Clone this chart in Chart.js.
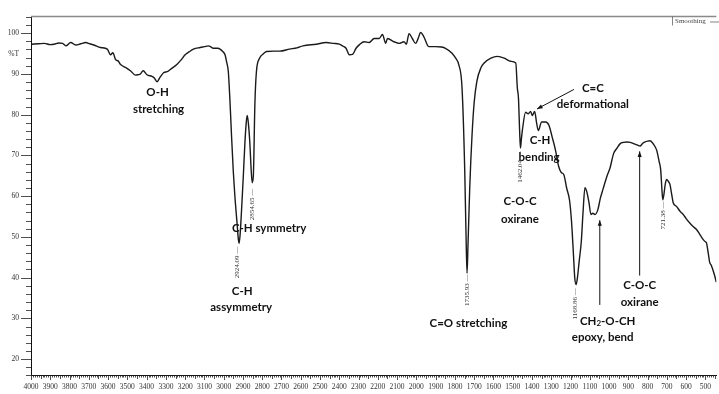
<!DOCTYPE html>
<html>
<head>
<meta charset="utf-8">
<script src="https://cdn.jsdelivr.net/npm/chart.js@4/dist/chart.umd.min.js"></script>
<style>
  body { margin: 0; background: #fff; }
  #wrap { width: 719px; height: 394px; }
</style>
</head>
<body>
<div id="wrap"><canvas id="ftir" width="719" height="394"></canvas></div>
<script>
// wavenumber (cm-1) and transmittance (%T)
const wavenumbers = [
  3995, 3960, 3931, 3900, 3880, 3855, 3836, 3819, 3794, 3768, 3742, 3716, 3695, 3673,
  3639, 3604, 3587, 3575, 3561, 3548, 3535, 3510, 3484, 3458, 3445, 3432, 3418, 3398,
  3372, 3360, 3346, 3330, 3312, 3290, 3277, 3243, 3220, 3200, 3180, 3157, 3122, 3100,
  3080, 3065, 3054, 3030, 3019, 3005, 2993, 2985, 2976, 2968, 2959, 2950, 2942, 2930,
  2924, 2920, 2914, 2907, 2898, 2890, 2883, 2878, 2872, 2864, 2858, 2852, 2846, 2838,
  2830, 2813, 2795, 2778, 2740, 2709, 2658, 2620, 2589, 2520, 2468, 2430, 2400, 2380,
  2365, 2348, 2331, 2313, 2295, 2271, 2245, 2219, 2193, 2176, 2159, 2150, 2116, 2090,
  2064, 2052, 2038, 2021, 2004, 1990, 1978, 1961, 1935, 1900, 1870, 1849, 1815, 1795,
  1780, 1763, 1749, 1742, 1737, 1732, 1723, 1711, 1700, 1686, 1665, 1648, 1613, 1579,
  1544, 1510, 1484, 1476, 1470, 1464, 1460, 1455, 1450, 1433, 1420, 1407, 1398, 1386,
  1376, 1367, 1350, 1329, 1312, 1295, 1278, 1262, 1248, 1235, 1220, 1205, 1195, 1185,
  1178, 1171, 1164, 1155, 1144, 1135, 1125, 1115, 1104, 1094, 1084, 1073, 1058, 1045,
  1032, 1010, 995, 976, 960, 942, 925, 908, 890, 873, 855, 839, 825, 813,
  800, 787, 770, 753, 740, 732, 726, 721, 715, 708, 701, 692, 684, 675,
  667, 650, 630, 615, 600, 581, 565, 546, 530, 512, 500, 495, 485, 478,
  469, 455, 443
];
const transmittance = [
  97.3, 97.4, 97.5, 97.2, 97.3, 97.6, 97.5, 96.9, 97.7, 97.1, 97.4, 97.7, 97.4, 97.1,
  96.5, 96.1, 94.7, 95.2, 93.5, 93.2, 92.3, 91.6, 90.8, 89.7, 89.8, 90.0, 90.8, 89.8,
  89.4, 89.0, 88.1, 89.2, 90.3, 90.6, 91.1, 92.3, 93.5, 94.7, 95.4, 96.1, 96.5, 96.7,
  96.9, 96.6, 96.3, 96.3, 96.1, 95.5, 94.7, 93.0, 90.6, 84.0, 74.6, 66.0, 60.1, 53.0,
  49.5, 48.4, 51.0, 56.8, 65.0, 72.9, 78.0, 79.8, 78.0, 72.9, 67.0, 63.3, 65.0, 82.6,
  90.6, 93.9, 94.9, 95.5, 95.6, 95.6, 96.1, 96.4, 96.9, 97.3, 97.7, 97.5, 97.3, 96.8,
  96.3, 94.7, 94.8, 96.3, 97.2, 97.9, 97.7, 98.7, 98.7, 99.7, 97.5, 98.7, 97.9, 97.5,
  97.9, 97.3, 99.9, 98.7, 97.5, 98.8, 100.2, 99.1, 96.7, 96.7, 96.6, 96.3, 95.1, 93.8,
  92.3, 86.6, 66.5, 50.0, 41.1, 48.0, 62.0, 75.0, 83.0, 88.2, 91.5, 92.7, 93.9, 94.3,
  93.9, 93.1, 92.7, 86.6, 84.0, 76.0, 71.8, 74.0, 76.1, 80.6, 80.2, 80.8, 79.8, 80.8,
  78.0, 76.1, 78.2, 78.2, 77.4, 74.5, 71.3, 67.4, 65.8, 65.3, 62.0, 59.0, 54.0, 46.0,
  40.0, 38.3, 40.0, 44.0, 48.8, 56.0, 62.1, 61.0, 58.4, 55.5, 55.8, 55.5, 56.7, 59.5,
  61.6, 65.0, 66.9, 70.5, 71.7, 72.9, 73.2, 73.3, 73.2, 72.9, 72.6, 72.3, 73.0, 73.3,
  73.5, 73.6, 72.8, 71.3, 68.5, 66.5, 62.0, 59.1, 60.5, 63.0, 64.1, 63.6, 62.9, 60.5,
  58.4, 57.5, 56.2, 55.5, 54.5, 53.4, 52.6, 51.8, 50.7, 49.4, 48.8, 48.6, 46.0, 43.8,
  43.0, 41.0, 38.9
];

const xTickValues = [4000, 3900, 3800, 3700, 3600, 3500, 3400, 3300, 3200, 3100, 3000, 2900,
  2800, 2700, 2600, 2500, 2400, 2300, 2200, 2100, 2000, 1900, 1800, 1700, 1600, 1500,
  1400, 1300, 1200, 1100, 1000, 900, 800, 700, 600, 500];
const yTickValues = [20, 30, 40, 50, 60, 70, 80, 90, 95, 100];

// band assignments: [text, wavenumber, %T]
const bandLabels = [
  ["O-H", 3343, 85.5],
  ["stretching", 3338, 81.4],
  ["C-H symmetry", 2764, 52.1],
  ["C-H", 2904, 36.7],
  ["assymmetry", 2909, 32.6],
  ["C=O stretching", 1730, 28.9],
  ["C=C", 1084, 86.5],
  ["deformational", 1084, 82.6],
  ["C-H", 1358, 73.7],
  ["bending", 1363, 69.5],
  ["C-O-C", 1462, 58.7],
  ["oxirane", 1462, 54.3],
  ["epoxy, bend", 1033, 25.3],
  ["C-O-C", 841, 38.1],
  ["oxirane", 841, 34.0]
];
// arrows: [fromWn, fromT, toWn, toT]
const arrows = [
  [1182, 86.2, 1374, 81.4],
  [1048, 33.3, 1048, 54.1],
  [841, 40.5, 841, 71.0]
];
// peak markers: [text, wavenumber, %T at top of label]
const peakMarks = [
  ["2924.09", 2930, 47.6],
  ["2854.65", 2852, 61.8],
  ["1735.93", 1736, 40.8],
  ["1462.04", 1462, 71.0],
  ["1168.86", 1175, 37.4],
  ["721.38", 717, 58.7]
];

const points = wavenumbers.map((w, i) => ({ x: w, y: transmittance[i] }));

const labelFont = "bold 11.5px Lato, 'Open Sans', sans-serif";

const decor = {
  id: "decor",
  afterDraw(chart) {
    const ctx = chart.ctx;
    const a = chart.chartArea;
    const x = chart.scales.x;
    const y = chart.scales.y;
    ctx.save();

    // top frame line
    ctx.strokeStyle = "#8a8a8a";
    ctx.lineWidth = 1.5;
    ctx.beginPath();
    ctx.moveTo(a.left, a.top);
    ctx.lineTo(a.right, a.top);
    ctx.stroke();

    // minor / major ticks
    ctx.strokeStyle = "#222";
    ctx.lineWidth = 0.8;
    ctx.beginPath();
    for (let w = 4000; w >= x.min; w -= 10) {
      const px = Math.round(x.getPixelForValue(w)) + 0.5;
      const len = w % 100 === 0 ? 5 : w % 50 === 0 ? 4 : 2.5;
      ctx.moveTo(px, a.bottom);
      ctx.lineTo(px, a.bottom + len);
    }
    for (let v = 16; v <= 104; v += 2) {
      const py = Math.round(y.getPixelForValue(v)) + 0.5;
      const len = v % 10 === 0 ? 10 : 5;
      ctx.moveTo(a.left - len, py);
      ctx.lineTo(a.left, py);
    }
    ctx.stroke();

    // band labels
    ctx.fillStyle = "#111";
    ctx.font = labelFont;
    ctx.textAlign = "center";
    ctx.textBaseline = "middle";
    bandLabels.forEach(([t, w, v]) => {
      ctx.fillText(t, x.getPixelForValue(w), y.getPixelForValue(v));
    });

    // CH2-O-CH with subscript
    const cx = x.getPixelForValue(1007);
    const cy = y.getPixelForValue(29.4);
    const p1 = "CH", p2 = "2", p3 = "-O-CH";
    const w1 = ctx.measureText(p1).width;
    const w3 = ctx.measureText(p3).width;
    ctx.font = "bold 8px Lato, 'Open Sans', sans-serif";
    const w2 = ctx.measureText(p2).width;
    const sx = cx - (w1 + w2 + w3) / 2;
    ctx.textAlign = "left";
    ctx.font = labelFont;
    ctx.fillText(p1, sx, cy);
    ctx.font = "bold 8px Lato, 'Open Sans', sans-serif";
    ctx.fillText(p2, sx + w1, cy + 3);
    ctx.font = labelFont;
    ctx.fillText(p3, sx + w1 + w2, cy);

    // arrows
    ctx.strokeStyle = "#111";
    ctx.fillStyle = "#111";
    ctx.lineWidth = 1;
    arrows.forEach(([w0, v0, w1a, v1]) => {
      const x0 = x.getPixelForValue(w0), y0 = y.getPixelForValue(v0);
      const x1 = x.getPixelForValue(w1a), y1 = y.getPixelForValue(v1);
      const ang = Math.atan2(y1 - y0, x1 - x0);
      ctx.beginPath();
      ctx.moveTo(x0, y0);
      ctx.lineTo(x1, y1);
      ctx.stroke();
      ctx.beginPath();
      ctx.moveTo(x1, y1);
      ctx.lineTo(x1 - 6 * Math.cos(ang - 0.35), y1 - 6 * Math.sin(ang - 0.35));
      ctx.lineTo(x1 - 6 * Math.cos(ang + 0.35), y1 - 6 * Math.sin(ang + 0.35));
      ctx.closePath();
      ctx.fill();
    });

    // rotated peak positions
    ctx.fillStyle = "#333";
    ctx.font = "7px 'Liberation Serif', serif";
    ctx.textAlign = "right";
    ctx.textBaseline = "middle";
    peakMarks.forEach(([t, w, v]) => {
      ctx.save();
      ctx.translate(x.getPixelForValue(w), y.getPixelForValue(v));
      ctx.rotate(-Math.PI / 2);
      ctx.fillText(t + " \u2014", 0, 0);
      ctx.restore();
    });

    // smoothing tag
    ctx.strokeStyle = "#666";
    ctx.lineWidth = 0.8;
    ctx.beginPath();
    ctx.moveTo(672.5, a.top);
    ctx.lineTo(672.5, a.top + 9);
    ctx.moveTo(710, a.top + 5.5);
    ctx.lineTo(719, a.top + 5.5);
    ctx.stroke();
    ctx.fillStyle = "#444";
    ctx.textAlign = "left";
    ctx.font = "7px 'Liberation Serif', serif";
    ctx.fillText("Smoothing", 675, a.top + 5);

    ctx.restore();
  }
};

new Chart(document.getElementById("ftir"), {
  type: "line",
  data: {
    datasets: [{
      data: points,
      borderColor: "#1a1a1a",
      borderWidth: 1.4,
      pointRadius: 0,
      cubicInterpolationMode: "monotone",
      fill: false
    }]
  },
  options: {
    responsive: false,
    animation: false,
    layout: { padding: { top: 11, right: 0, left: 0, bottom: 0 } },
    plugins: { legend: { display: false }, tooltip: { enabled: false } },
    scales: {
      x: {
        type: "linear",
        reverse: true,
        min: 443,
        max: 4000,
        afterBuildTicks: (s) => { s.ticks = xTickValues.map((v) => ({ value: v })); },
        afterFit: (s) => { s.height = 19; },
        grid: { display: false, drawTicks: false },
        border: { display: true, color: "#111", width: 1 },
        ticks: {
          autoSkip: false,
          maxRotation: 0,
          padding: 8,
          color: "#333",
          font: { family: "'Liberation Serif', serif", size: 7.5 },
          callback: (v) => String(v)
        }
      },
      y: {
        min: 16.1,
        max: 104.1,
        afterBuildTicks: (s) => { s.ticks = yTickValues.map((v) => ({ value: v })); },
        afterFit: (s) => { s.width = 31; },
        grid: { display: false, drawTicks: false },
        border: { display: true, color: "#111", width: 1 },
        ticks: {
          padding: 12,
          color: "#333",
          font: { family: "'Liberation Serif', serif", size: 7.5 },
          callback: (v) => (v === 95 ? "%T" : String(v))
        }
      }
    }
  },
  plugins: [decor]
});
</script>
</body>
</html>
